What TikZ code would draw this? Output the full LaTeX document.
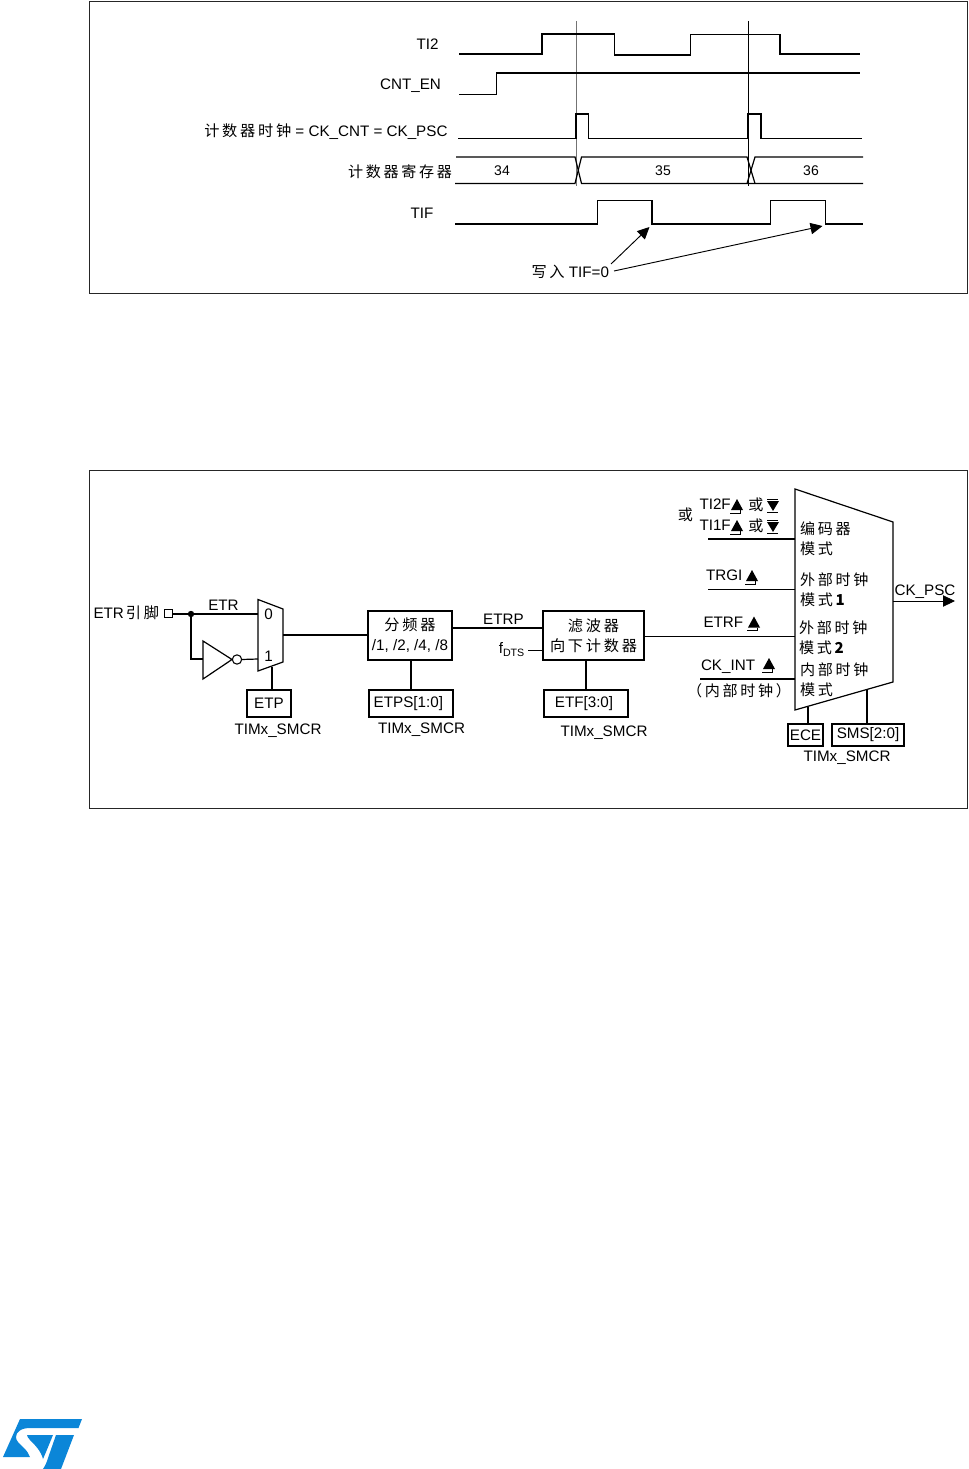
\documentclass[tikz,border=0pt]{standalone}
\usepackage{fontspec}
\setmainfont{Liberation Sans}
\newfontfamily\cjk[LetterSpace=18]{Noto Sans CJK SC}
\usetikzlibrary{arrows.meta,calc}
\definecolor{stblue}{HTML}{0B86D8}
\newcommand{\riseedge}[1]{\begin{scope}[shift={(#1)}]
 \fill (-6,5) -- (6,5) -- (0,-6) -- cycle;
 \draw[sig,line width=.7pt] (-7,8) -- (3,8) -- (3,5);
 \end{scope}}
\newcommand{\falledge}[1]{\begin{scope}[shift={(#1)}]
 \fill (-6,-4) -- (6,-4) -- (0,6) -- cycle;
 \draw[sig,line width=.7pt] (-6,-6) -- (5,-6);
 \draw[sig,line width=.7pt] (-6,7) -- (5,7);
 \end{scope}}
\tikzset{
 sig/.style={line width=.9pt,black},
 lab/.style={inner sep=0pt,outer sep=0pt,font=\fontsize{11.4}{15}\selectfont},
 zh/.style={inner sep=0pt,outer sep=0pt,font=\fontsize{11.3}{15}\selectfont\cjk},
 box/.style={draw,line width=.9pt,inner sep=0pt,outer sep=0pt,align=center,font=\fontsize{11.4}{15}\selectfont},
 frm/.style={draw,line width=.7pt,black!85,inner sep=0pt},
 arr/.style={sig,-{Triangle[length=9pt,width=8.5pt]}},
 guide/.style={line width=.6pt}
}
\begin{document}
\begin{tikzpicture}[x=.75pt,y=-.75pt]
\useasboundingbox (0,0) rectangle (969,1469);
% ---------- timing frame
\draw[frm] (89.5,1) rectangle (967.5,293);
\node[lab] (lti2) at (427.5,44) {TI2};
\node[lab] (lcnt) at (410.5,85.5) {CNT\_EN};
\node[lab,anchor=east] (lclk) at (447.5,131.5) {{\cjk 计数器时钟} = CK\_CNT = CK\_PSC};
\node[zh,anchor=east] (lreg) at (452,171.5) {计数器寄存器};
\node[lab] (ltif) at (422,213) {TIF};
\draw[guide,black!55] (576.5,21) -- (576.5,186);
\draw[guide] (748.3,21) -- (748.3,186);
\draw[sig] (459,54) -- (542,54) -- (542,34) -- (614.5,34) -- (614.5,55) -- (690.5,55) -- (690.5,34.5) -- (780,34.5) -- (780,54) -- (860,54);
\draw[sig] (459,94.5) -- (496.5,94.5) -- (496.5,73) -- (860,73);
\draw[sig] (458,138.5) -- (576,138.5) -- (576,114) -- (588.5,114) -- (588.5,138.5) -- (748,138.5) -- (748,114) -- (761,114) -- (761,138.5) -- (862,138.5);
\draw[sig] (456,157) -- (575,157) -- (581.5,183.5) -- (863,183.5);
\draw[sig] (455,183.5) -- (575,183.5) -- (581.5,157) -- (747,157) -- (755,183.5);
\draw[sig] (747,183.5) -- (755,157) -- (863,157);
\node[lab,font=\fontsize{10.5}{15}\selectfont] (v34) at (502,171) {34};
\node[lab,font=\fontsize{10.5}{15}\selectfont] (v35) at (663,171) {35};
\node[lab,font=\fontsize{10.5}{15}\selectfont] (v36) at (811,171) {36};
\draw[sig] (455,224) -- (597.5,224) -- (597.5,200.5) -- (652,200.5) -- (652,224) -- (770.5,224) -- (770.5,200.5) -- (825.5,200.5) -- (825.5,224) -- (863,224);
\node[lab,anchor=east] (wr) at (609,272) {{\cjk 写入} TIF=0};
\coordinate (t1) at (649.5,227);
\coordinate (t2) at (822.5,226);
\draw[arr,line width=.7pt] (611,264) -- (t1);
\draw[arr,line width=.7pt] (614,271) -- (t2);
% ---------- block frame
\draw[frm] (89,470.5) rectangle (967,808);
\node[lab,anchor=west] (letr) at (93.5,612.5) {ETR\kern1.5pt{\cjk 引脚}};
\node[draw,line width=.8pt,minimum width=6.5pt,minimum height=6.5pt,inner sep=0pt,outer sep=0pt] (pin) at (168.5,613.5) {};
\coordinate (jn) at (191,614);
\coordinate (m0) at (258,614);
\coordinate (m1) at (258,659);
\coordinate (mout) at (283,635);
\coordinate (mctl) at (272,667);
\draw[sig] (258,599.5) -- (283,609) -- (283,662) -- (258,671) -- cycle;
\node[lab] (l0) at (268.5,614) {0};
\node[lab] (l1) at (268.5,656.5) {1};
\node[lab] (letr2) at (223.5,605) {ETR};
\coordinate (invb) at (203,659);
\draw[sig] (203,641) -- (203,679) -- (232,659.5) -- cycle;
\node[draw,circle,line width=.8pt,minimum size=7pt,inner sep=0pt,outer sep=0pt] (bub) at (237,659.5) {};
\draw[sig] (pin.east |- jn) -- (jn) -- (m0);
\fill (jn) circle (3.2);
\draw[sig] (jn) |- (invb);
\draw[sig] (bub.east) -- (m1);
\node[box,minimum width=33pt,minimum height=20.25pt] (etp) at (269,703.5) {ETP};
\node[lab] (s1) at (278,730.5) {TIMx\_SMCR};
\draw[sig] (mctl) -- (mctl |- etp.north);
\node[box,minimum width=63pt,minimum height=36.75pt] (presc) at (410,635.5) {{\cjk 分频器}\\/1, /2, /4, /8};
\node[box,minimum width=63pt,minimum height=20.25pt] (etps) at (411,703.5) {\raisebox{-.7pt}{ETPS[1:0]}\kern4pt};
\node[lab] (s2) at (421.5,729.5) {TIMx\_SMCR};
\draw[sig] (mout) -- (mout -| presc.west);
\draw[sig] (etps.north) -- (etps.north |- presc.south);
\node[box,minimum width=75.75pt,minimum height=36.75pt] (filt) at (593.5,635.5) {{\cjk 滤波器}\\{\cjk 向下计数器}};
\node[box,minimum width=63pt,minimum height=20.25pt] (etf) at (586,703.5) {\raisebox{-.7pt}{ETF[3:0]}\kern3pt};
\node[lab] (s3) at (604,732.5) {TIMx\_SMCR};
\coordinate (etrpl) at (452,628);
\draw[sig] (etrpl) -- (etrpl -| filt.west);
\node[lab] (letrp) at (503.5,619) {ETRP};
\node[lab,anchor=east] (fdts) at (525,649.5) {f\textsubscript{DTS}};
\draw[guide] (528,650) -- (543,650);
\draw[sig] (etf.north) -- (etf.north |- filt.south);
% selector
\coordinate (selin) at (795,636.5);
\draw[sig] (795,489) -- (893,522) -- (893,682) -- (795,710) -- cycle;
\draw[sig] (filt.east |- selin) -- (selin);
\coordinate (e1) at (708,539);
\coordinate (e2) at (708,589);
\coordinate (e3) at (700,679);
\draw[sig] (e1) -- (795,539);
\draw[guide] (e2) -- (795,589);
\draw[sig] (e3) -- (795,679);
\coordinate (po) at (893,601);
\coordinate (pe) at (955,601);
\draw[arr,line width=.6pt] (po) -- (pe);
\node[lab] (lpsc) at (925,591.5) {CK\_PSC};
\node[zh] (lor) at (685.5,514.5) {或};
\node[lab,anchor=west] (lti2f) at (699.5,504.5) {TI2F};
\node[lab,anchor=west] (lti1f) at (699.5,525) {TI1F};
\node[zh] (lor1) at (756,505) {或};
\node[zh] (lor2) at (756,525.5) {或};
\riseedge{737,505}
\falledge{773,505}
\riseedge{737,526}
\falledge{773,526}
\node[lab,anchor=west] (ltrgi) at (706,575.5) {TRGI};
\riseedge{752,576}
\node[lab,anchor=west] (letrf) at (703.5,622.5) {ETRF};
\riseedge{754,622.5}
\node[lab,anchor=west] (lckint) at (701,666.5) {CK\_INT};
\riseedge{769,664}
\node[zh,anchor=east] (lint) at (791,691) {（内部时钟）};
\node[zh,anchor=west] (m1a) at (800,528.5) {编码器};
\node[zh,anchor=west] (m1b) at (800,548.5) {模式};
\node[zh,anchor=west] (m2a) at (800,579.5) {外部时钟};
\node[zh,anchor=west] (m2b) at (800,599.5) {模式\textbf{1}};
\node[zh,anchor=west] (m3a) at (799,627.5) {外部时钟};
\node[zh,anchor=west] (m3b) at (799,647.5) {模式\textbf{2}};
\node[zh,anchor=west] (m4a) at (800,669.5) {内部时钟};
\node[zh,anchor=west] (m4b) at (800,689.5) {模式};
\node[box,minimum width=26.25pt,minimum height=16.5pt] (ece) at (805.5,735) {ECE};
\node[box,minimum width=54pt,minimum height=16.5pt] (sms) at (868,735) {\raisebox{-.7pt}{SMS[2:0]}};
\node[lab] (s4) at (847,758) {TIMx\_SMCR};
\draw[sig] (808,724) -- (808,706.5);
\draw[sig] (867,724) -- (867,689.5);
% ---------- logo
\fill[stblue] (20,1419) -- (82,1419) -- (78.5,1428) -- (30,1428) .. controls (21,1428) and (16,1432) .. (16,1437) .. controls (16,1441) and (19,1443) .. (24,1448) .. controls (27,1451) and (29,1454) .. (30,1457) -- (3,1457) -- cycle;
\fill[stblue] (27,1435) -- (53,1435) -- (46,1452) -- (43,1459) .. controls (41,1451) and (35,1445) .. (30,1440) .. controls (28,1438) and (27,1436) .. (27,1435) -- cycle;
\fill[stblue] (56,1435) -- (74,1435) -- (61,1469) -- (43,1469) .. controls (45,1466) and (47,1462) .. (48,1458) -- cycle;
\end{tikzpicture}
\end{document}
